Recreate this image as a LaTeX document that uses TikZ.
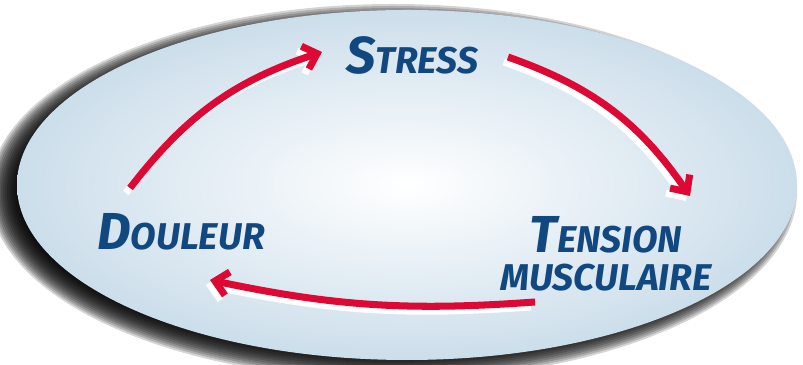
\documentclass[tikz,border=0pt]{standalone}
\usepackage{fontspec}
\setmainfont{Fira Sans}
\usetikzlibrary{arrows.meta, calc}
\definecolor{cerclebleu}{RGB}{204,222,235}
\definecolor{texteblue}{RGB}{18,72,128}
\definecolor{fleche}{RGB}{222,8,52}
\newcommand\initiale[2]{{\fontsize{37}{37}\selectfont #1}#2}

\begin{document}
\begin{tikzpicture}[x=0.025cm, y=0.025cm,
    mot/.style={font=\bfseries\itshape\fontsize{26.5}{27}\selectfont, text=texteblue,
                align=center, inner sep=0pt},
    cycle/.style={-{Straight Barb[length=9pt, width=17pt]}, line width=5pt, draw=fleche},
    reflet/.style={cycle, draw=white, transform canvas={xshift=-3pt, yshift=-3.5pt}}
  ]
  \useasboundingbox (0,0) rectangle (803,365);

  % ombre floue sous l'ellipse
  \foreach \k in {0,...,14}
    \fill[black, opacity=0.17] (393,173) ellipse ({404-2*\k} and {188-2*\k});
  \shade[inner color=white, outer color=cerclebleu] (407,180) ellipse (390 and 175);

  \node[mot] (stress) at (412,310) {\initiale{S}{TRESS}};
  \node[mot] (douleur) at (181,133) {\initiale{D}{OULEUR}};
  \node[mot] (tension) at (606,111) {\initiale{T}{ENSION}\\MUSCULAIRE};

  % cycle : reflet blanc puis fleche rouge
  \foreach \s in {reflet, cycle} {
    \draw[\s] ($(douleur)+(-51,44)$) to[bend left=17] ($(stress)+(-90,3)$);
    \draw[\s] ($(stress)+(96,-2)$) to[bend left=18] ($(tension)+(84,58)$);
    \draw[\s] ($(tension)+(-71,-48)$) to[bend left=8] ($(douleur)+(29,-48)$);
  }
\end{tikzpicture}
\end{document}
